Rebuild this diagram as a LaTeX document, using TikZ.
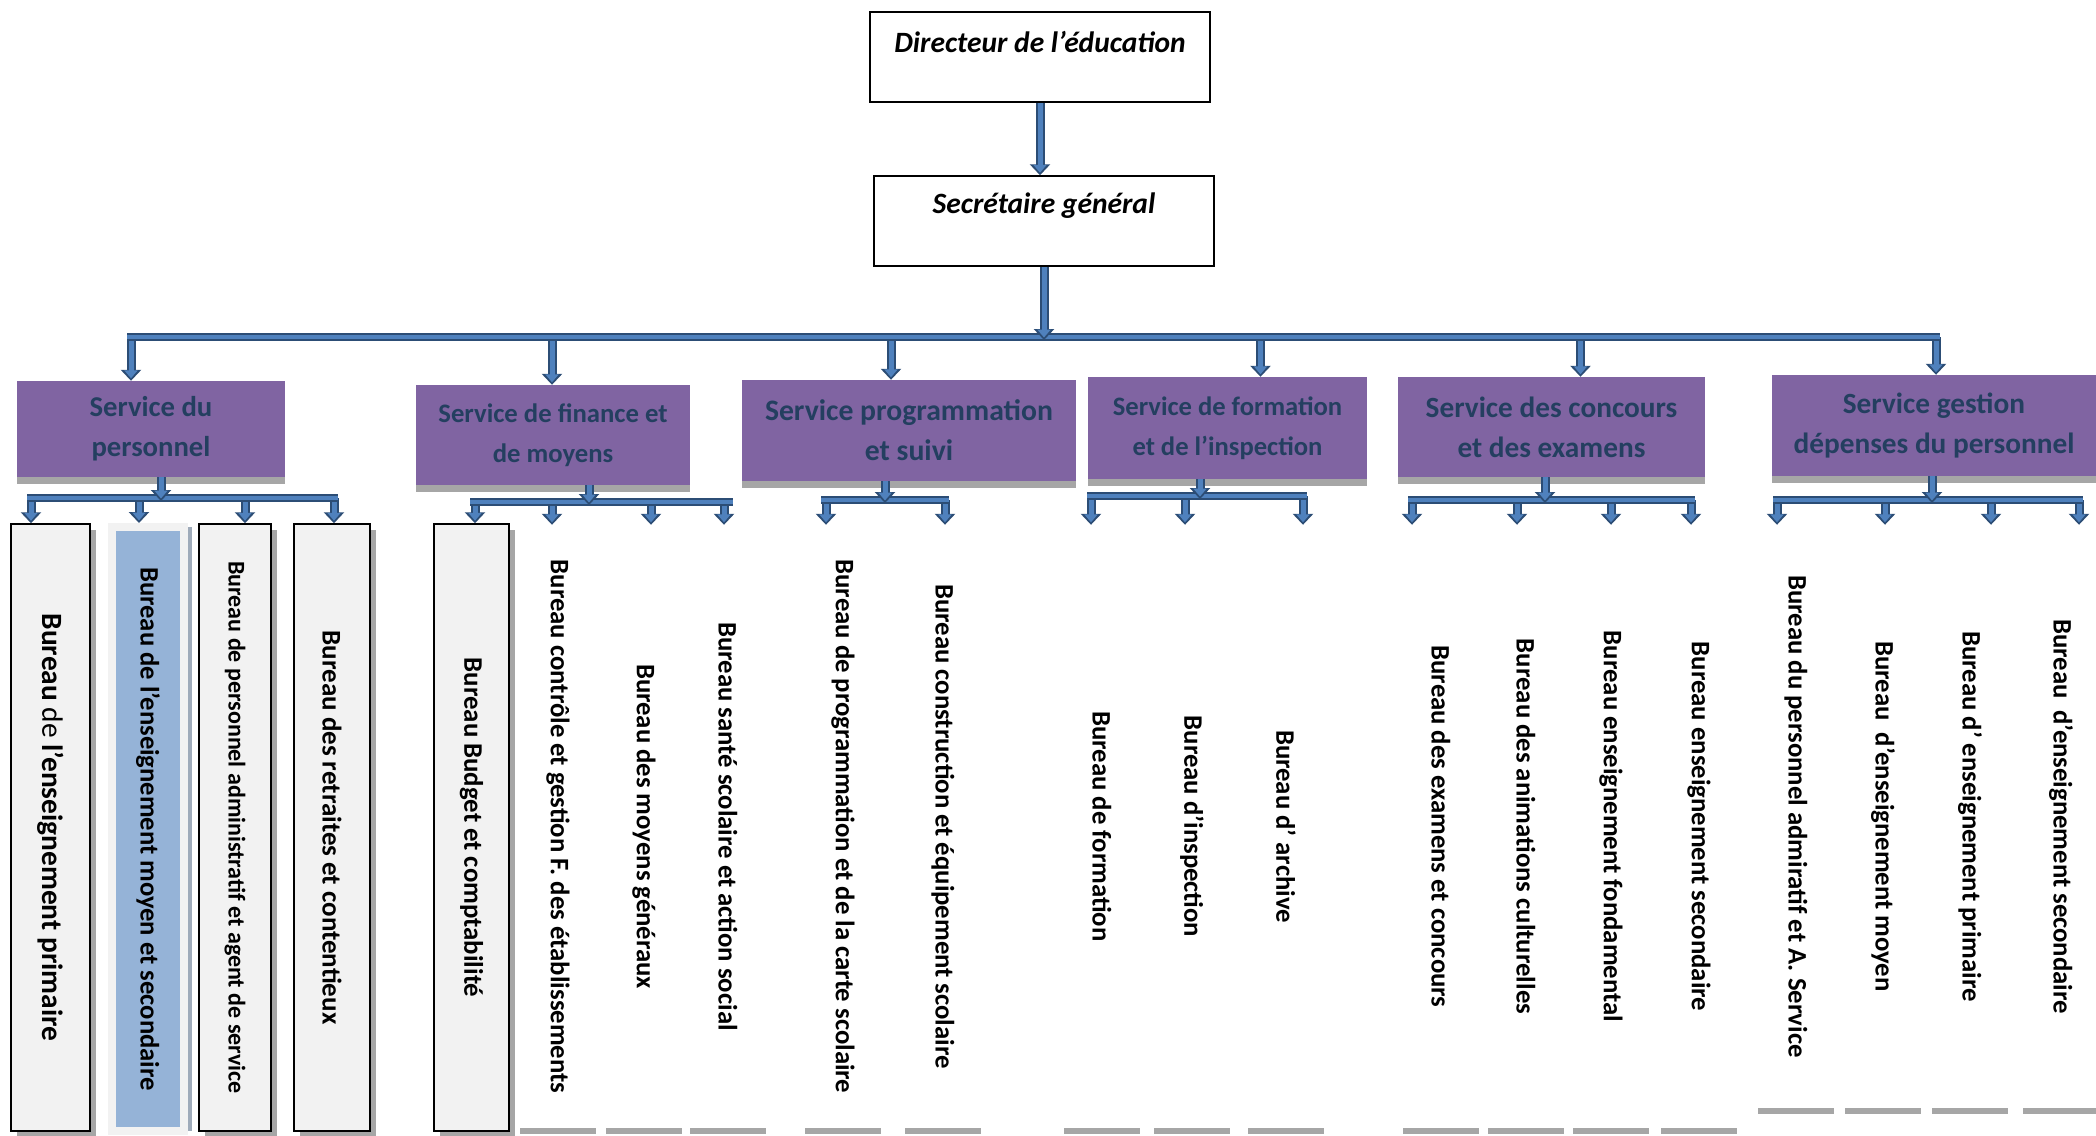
\documentclass[tikz,border=0pt]{standalone}
\usepackage{fontspec}
\setmainfont{Carlito}
\usepackage{graphicx}
\usetikzlibrary{arrows.meta,shadows}

\definecolor{pipedark}{HTML}{2C4D75}
\definecolor{pipelight}{HTML}{4F81BD}
\definecolor{servicepurple}{HTML}{8064A2}
\definecolor{servicetext}{HTML}{243F60}
\definecolor{shadowgray}{HTML}{A6A6A6}
\definecolor{boxgray}{HTML}{F2F2F2}
\definecolor{boxblue}{HTML}{95B3D7}

\tikzset{
  pipe/.style={draw=pipelight, line width=5pt, shorten >=2.5pt,
    -{Triangle[length=8pt,width=13pt]},
    preaction={draw=pipedark, line width=9pt, shorten >=0pt,
      -{Triangle[length=11pt,width=20pt]}}},
  pipebar/.style={draw=pipelight, line width=4pt,
    preaction={draw=pipedark, line width=8pt}},
  chief/.style={draw, line width=1.5pt, minimum width=340pt, minimum height=90pt,
    font=\bfseries\itshape\fontsize{29.5}{34}\selectfont},
  service/.style={fill=servicepurple, text=servicetext, align=center, inner sep=0pt,
    general shadow={fill=shadowgray, shadow yshift=-7pt}},
  bureau/.style={draw, line width=1.5pt, fill=boxgray, minimum width=76pt,
    minimum height=607pt, inner sep=0pt, font=\bfseries\fontsize{26.7}{30}\selectfont,
    general shadow={fill=shadowgray, shadow xshift=6pt, shadow yshift=-6pt}},
  hibureau/.style={draw=boxgray, line width=8pt, fill=boxblue, minimum width=72pt,
    minimum height=604pt, inner sep=0pt, font=\bfseries\fontsize{26.6}{30}\selectfont,
    general shadow={fill=shadowgray!60!boxblue, shadow xshift=8pt}},
  openbureau/.style={fill=white, minimum width=76pt, minimum height=603pt, inner sep=0pt,
    font=\bfseries\fontsize{26.7}{30}\selectfont,
    general shadow={fill=shadowgray, shadow yshift=-6pt}}
}

\begin{document}
\begin{tikzpicture}[x=1pt,y=-1pt]
        \useasboundingbox (0,0) rectangle (2096,1135);
        \node[chief, text height=20pt, text depth=30pt] (dir) at (1040,57) {Directeur de l’éducation};
        \node[chief, text height=20pt, text depth=36pt] (sec) at (1044,221) {Secrétaire général};
        \foreach \Name/\X/\Y/\W/\H/\Size/\Text in {
                s1/151/429/268/96/28.7/{Service du\\personnel},
                s2/553/435/274/100/26.7/{Service de finance et\\de moyens},
                s3/909/430.5/334/101/29.7/{Service programmation\\et suivi},
                s4/1227.5/428/279/102/26.6/{Service de formation\\et de l’inspection},
                s5/1551.5/427/307/100/29.3/{Service des concours\\et des examens},
                s6/1934/425.5/324/101/29.3/{Service gestion\\dépenses du personnel}}
        {
          \node[service, minimum width=\W pt, minimum height=\H pt,
            font=\bfseries\fontsize{\Size}{40}\selectfont] (\Name) at (\X,\Y) {\Text};
        }
        \node[bureau, minimum width=79pt, font=\bfseries\fontsize{29.4}{32}\selectfont] (p1) at (50.5,827.5)
          {\rotatebox{-90}{Bureau {\mdseries de} l’enseignement primaire}};
        \node[hibureau] (p2) at (148,829)
          {\rotatebox{-90}{Bureau de l’enseignement moyen et secondaire}};
        \node[bureau, minimum width=72pt, font=\bfseries\fontsize{24}{28}\selectfont] (p3) at (235,827.5)
          {\rotatebox{-90}{Bureau de personnel administratif et agent de service}};
        \node[bureau, font=\bfseries\fontsize{27}{30}\selectfont] (p4) at (332,827.5)
          {\rotatebox{-90}{Bureau des retraites et contentieux}};
        \node[bureau, minimum width=75pt, font=\bfseries\fontsize{26.8}{30}\selectfont] (f1) at (471.5,827.5)
          {\rotatebox{-90}{Bureau Budget et comptabilité}};
        \foreach \Name/\X/\Text in {
                f2/558/{Bureau contrôle et gestion F. des établissements},
                f3/644/{Bureau des moyens généraux},
                f4/728/{Bureau santé scolaire et action social},
                g1/843/{Bureau de programmation et de la carte scolaire},
                g2/943/{Bureau construction et équipement scolaire},
                t1/1102/{Bureau de formation},
                t2/1192/{Bureau d’inspection},
                t3/1286/{Bureau d’ archive},
                c1/1441/{Bureau des examens et concours},
                c2/1526/{Bureau des animations culturelles},
                c3/1611/{Bureau enseignement fondamental},
                c4/1699/{Bureau enseignement secondaire}}
        {
          \node[openbureau] (\Name) at (\X,826.5) {\rotatebox{-90}{\Text}};
        }
        \foreach \Name/\X/\Text in {
                d1/1796/{Bureau du personnel admiratif et A. Service},
                d2/1883/{Bureau\ \ d’enseignement moyen},
                d3/1970/{Bureau d’ enseignement primaire},
                d4/2061/{Bureau\ \ d’enseignement secondaire}}
        {
          \node[openbureau, minimum height=583pt] (\Name) at (\X,816.5) {\rotatebox{-90}{\Text}};
        }
        \coordinate (mainbar) at (1042,337);
        \foreach \Name/\dx in {s1/-20,s2/-1,s3/-18,s4/33,s5/29,s6/2}
          \draw[pipe] ([xshift=\dx pt]\Name.north |- mainbar) -- ([xshift=\dx pt]\Name.north);
        \draw[pipebar] ([xshift=-24pt]s1.north |- mainbar) -- ([xshift=6pt]s6.north |- mainbar);
        \draw[pipe] (dir.south) -- (dir.south |- sec.north);
        \draw[pipe] (sec.south) -- ([yshift=-3pt]sec.south |- mainbar);
        \coordinate (bar1) at (161,498);
        \coordinate (bar2) at (589,502);
        \coordinate (bar3) at (885,500);
        \coordinate (bar4) at (1200,496);
        \coordinate (bar5) at (1545,500);
        \coordinate (bar6) at (1932,500);
        \foreach \Bar/\Service/\First/\Left/\Last/\Right/\Drops in {
                bar1/s1/p1/-23.5/p4/6/{p1/-19.5,p2/-9,p3/10,p4/2},
                bar2/s2/f1/-1.5/f4/5/{f1/3.5,f2/-6,f3/7,f4/-4},
                bar3/s3/g1/-22/g2/6/{g1/-17,g2/2},
                bar4/s4/t1/-15/t3/21/{t1/-11,t2/-7,t3/17},
                bar5/s5/c1/-33/c4/-4/{c1/-29,c2/-9,c3/0,c4/-8},
                bar6/s6/d1/-23/d4/22/{d1/-19,d2/2,d3/21,d4/18}}
        {
          \foreach \Name/\dx in \Drops
            \draw[pipe] ([xshift=\dx pt]\Name.north |- \Bar) -- ([xshift=\dx pt]\Name.north);
          \draw[pipebar] ([xshift=\Left pt]\First.north |- \Bar) -- ([xshift=\Right pt]\Last.north |- \Bar);
          \draw[pipe] (\Service.south -| \Bar) -- ([yshift=-3pt]\Bar);
        }
\end{tikzpicture}
\end{document}
